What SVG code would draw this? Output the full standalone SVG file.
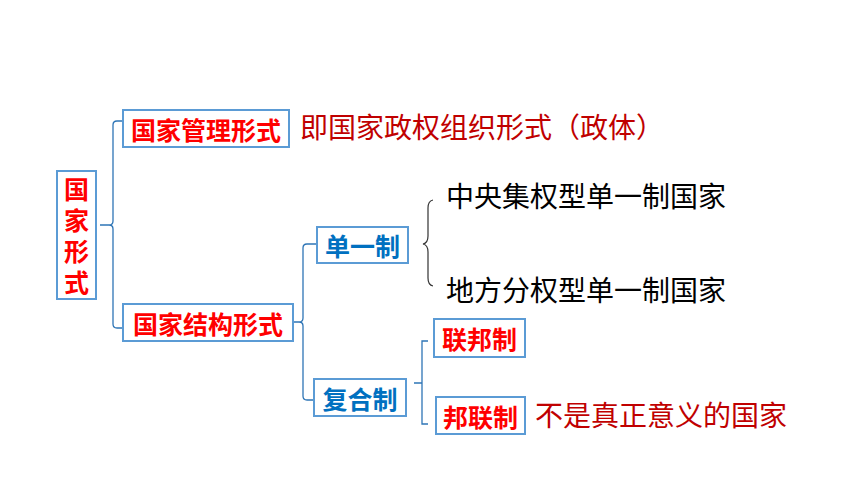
<svg xmlns="http://www.w3.org/2000/svg" width="860" height="484" viewBox="0 0 860 484">
<style>
.box{fill:#fff;stroke:#5B9BD5;stroke-width:2}
.lbl{font-family:"Noto Sans CJK SC","Liberation Sans",sans-serif;font-weight:700;font-size:25px;text-anchor:middle;dominant-baseline:central}
.vlbl{font-family:"Noto Sans CJK SC","Liberation Sans",sans-serif;font-weight:700;font-size:25px;writing-mode:vertical-rl;letter-spacing:6px}
.red{fill:#FF0000}
.blue{fill:#0070C0}
.txt{font-family:"Noto Sans CJK SC","Liberation Sans",sans-serif;font-size:28px;dominant-baseline:central}
.dred{fill:#C00000}
.blk{fill:#000}
.br{fill:none;stroke:#2E75B6;stroke-width:1.3}
.brace{fill:none;stroke:#333;stroke-width:1.2}
</style>
<rect width="860" height="484" fill="#fff"/>
<g id="connectors">
<path class="br" d="M124,121 H117 Q113,121 113,125 V221 Q113,225 109,225 H100 M109,225 Q113,225 113,229 V324 Q113,328 117,328 H124"/>
<path class="br" d="M317,244 H307 Q303,244 303,248 V318 Q303,322 299,322 H293 M299,322 Q303,322 303,326 V396 Q303,400 307,400 H314"/>
<path class="br" d="M428,341 H422 V424 H428 M422,383 H414"/>
<path class="brace" d="M433,200 Q428,201 428,208 V236 Q428,243 423,244 Q428,245 428,252 V278 Q428,285 433,286"/>
</g>
<g id="n-guojiaxingshi">
<rect class="box" x="57" y="171" width="39" height="128"/>
<text class="vlbl red" x="76.5" y="177">国家形式</text>
</g>
<g id="n-guanli">
<rect class="box" x="123" y="110" width="166" height="37"/>
<text class="lbl red" x="206" y="129">国家管理形式</text>
</g>
<g id="n-guanli-desc">
<text class="txt dred" x="300" y="126">即国家政权组织形式（政体）</text>
</g>
<g id="n-jiegou">
<rect class="box" x="123" y="304" width="170" height="37"/>
<text class="lbl red" x="208" y="323">国家结构形式</text>
</g>
<g id="n-danyi">
<rect class="box" x="317" y="227" width="91" height="36"/>
<text class="lbl blue" x="362.5" y="245">单一制</text>
</g>
<g id="n-zhongyang">
<text class="txt blk" x="446" y="195">中央集权型单一制国家</text>
</g>
<g id="n-difang">
<text class="txt blk" x="446" y="289">地方分权型单一制国家</text>
</g>
<g id="n-fuhe">
<rect class="box" x="314" y="379" width="92" height="37"/>
<text class="lbl blue" x="360" y="398">复合制</text>
</g>
<g id="n-lianbang">
<rect class="box" x="434" y="319" width="91" height="38"/>
<text class="lbl red" x="479.5" y="338">联邦制</text>
</g>
<g id="n-banglian">
<rect class="box" x="436" y="397" width="89" height="37"/>
<text class="lbl red" x="480.5" y="416">邦联制</text>
</g>
<g id="n-banglian-desc">
<text class="txt dred" x="535" y="414">不是真正意义的国家</text>
</g>
</svg>
